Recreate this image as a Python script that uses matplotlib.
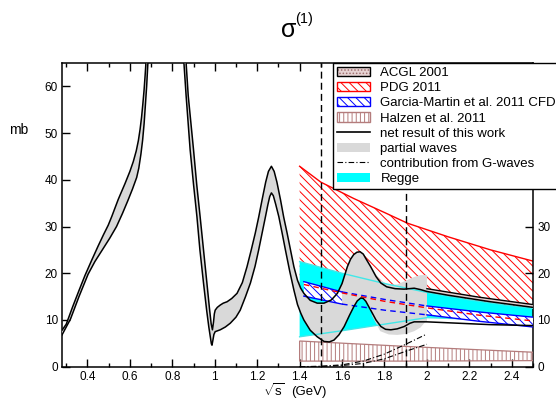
import numpy as np
import matplotlib
matplotlib.use("Agg")
import matplotlib.pyplot as plt
from matplotlib.patches import Patch
from matplotlib.lines import Line2D
from matplotlib.legend_handler import HandlerTuple

plt.rcParams['font.family'] = ['Liberation Sans', 'DejaVu Sans']
plt.rcParams['mathtext.fontset'] = 'custom'
plt.rcParams['mathtext.rm'] = 'Liberation Sans'
plt.rcParams['mathtext.it'] = 'Liberation Sans:italic'
plt.rcParams['hatch.linewidth'] = 0.7

# ---------------- data ----------------
# net result of this work: upper and lower envelopes
net_hi_x = [0.28, 0.30, 0.33, 0.36, 0.388, 0.42, 0.45, 0.475, 0.498, 0.515, 0.53, 0.545, 0.56,
            0.577, 0.60, 0.616, 0.63, 0.64, 0.648, 0.655, 0.661, 0.667, 0.672, 0.677, 0.69,
            0.72, 0.77, 0.82, 0.855, 0.875, 0.90, 0.915, 0.931, 0.947, 0.963, 0.975, 0.983,
            0.989, 0.994, 0.998, 1.002, 1.012, 1.026, 1.04, 1.058, 1.08, 1.105, 1.13, 1.152,
            1.172, 1.191, 1.207, 1.223, 1.24, 1.253, 1.267, 1.28, 1.293, 1.31, 1.325, 1.341,
            1.357, 1.373, 1.39, 1.405, 1.42, 1.45, 1.483, 1.515, 1.55, 1.578, 1.60, 1.625,
            1.64, 1.655, 1.67, 1.685, 1.70, 1.71, 1.735, 1.76, 1.783, 1.81, 1.85, 1.893, 1.94,
            1.97, 2.0, 2.1, 2.2, 2.3, 2.4, 2.5]
net_hi_y = [7.8, 9.1, 12.8, 16.3, 19.5, 22.8, 25.8, 28.2, 30.3, 32.2, 34.0, 35.8, 37.4,
            39.2, 41.8, 43.9, 46.2, 48.4, 50.8, 53.4, 56.2, 59.3, 62.5, 66.0, 80.0,
            110.0, 130.0, 105.0, 72.0, 58.0, 46.4, 39.0, 32.1, 25.0, 17.9, 12.5, 9.2,
            7.9, 9.5, 11.3, 12.1, 12.7, 13.2, 13.6, 13.9, 14.6, 15.7, 18.0, 21.4,
            25.0, 28.6, 32.0, 35.7, 39.5, 41.8, 42.9, 41.8, 39.5, 35.7, 32.0, 28.6,
            25.0, 21.4, 18.5, 16.8, 15.7, 14.2, 13.6, 13.6, 14.3, 15.7, 17.8, 21.4,
            23.0, 24.0, 24.5, 24.6, 24.1, 23.3, 21.4, 19.3, 17.9, 17.1, 16.7, 16.6, 16.8,
            16.5, 16.1, 15.3, 14.6, 13.9, 13.3, 12.7]
net_lo_x = [0.28, 0.30, 0.32, 0.36, 0.403, 0.435, 0.47, 0.505, 0.537, 0.565, 0.59, 0.612, 0.632,
            0.642, 0.652, 0.66, 0.667, 0.673, 0.679, 0.686, 0.70, 0.77, 0.84, 0.865, 0.884,
            0.90, 0.916, 0.93, 0.947, 0.962, 0.972, 0.979, 0.984, 0.987, 0.991, 0.996, 1.002,
            1.026, 1.05, 1.073, 1.10, 1.12, 1.145, 1.168, 1.19, 1.207, 1.225, 1.239, 1.25,
            1.259, 1.267, 1.276, 1.287, 1.302, 1.318, 1.333, 1.353, 1.373, 1.39, 1.405, 1.42,
            1.45, 1.483, 1.515, 1.54, 1.562, 1.585, 1.61, 1.635, 1.656, 1.672, 1.688, 1.70,
            1.712, 1.735, 1.76, 1.783, 1.805, 1.83, 1.86, 1.893, 1.92, 1.94, 2.0, 2.1, 2.2,
            2.3, 2.4, 2.5]
net_lo_y = [6.8, 8.5, 10.2, 15.0, 19.8, 22.5, 25.0, 27.5, 30.0, 32.8, 35.5, 38.0, 40.5,
            42.5, 45.5, 48.5, 52.0, 56.0, 60.0, 66.0, 80.0, 118.0, 75.0, 58.0, 46.4,
            39.0, 32.1, 25.0, 17.9, 12.0, 8.5, 6.4, 4.9, 4.6, 5.6, 6.9, 7.5,
            7.9, 8.5, 9.3, 10.6, 12.1, 15.0, 17.9, 21.5, 25.0, 29.0, 32.1, 34.6,
            36.4, 37.2, 36.6, 34.8, 32.1, 28.5, 25.0, 20.5, 16.4, 13.3, 11.5, 10.0,
            7.8, 6.4, 5.4, 5.3, 5.7, 6.8, 8.6, 11.0, 12.9, 14.1, 14.7, 14.6,
            14.0, 12.1, 10.0, 8.6, 8.0, 7.9, 8.1, 8.6, 9.3, 9.6, 9.6, 9.4, 9.2,
            9.0, 8.9, 8.8]
pw_limit = 2.0   # partial waves shown up to 2 GeV

# partial waves (extra spread)
pw_x = [1.74, 1.78, 1.82, 1.86, 1.90, 1.94, 1.97, 2.0]
pw_top = [21.0, 18.5, 17.6, 17.6, 18.4, 19.2, 19.6, 19.6]
pw_bot = [11.0, 7.6, 6.9, 6.8, 7.0, 7.6, 8.4, 10.0]

# Regge band
reg_x = [1.4, 1.6, 1.8, 2.0, 2.2, 2.4, 2.5]
reg_hi = [22.5, 20.0, 17.8, 15.9, 14.3, 13.0, 12.5]
reg_lo = [6.4, 7.7, 9.1, 10.5, 10.2, 9.9, 9.7]

# PDG 2011 band
pdg_x = [1.4, 1.5, 1.655, 1.8, 1.909, 2.1, 2.3, 2.5]
pdg_hi = [42.9, 39.5, 36.0, 33.0, 30.7, 27.8, 25.0, 22.6]
pdg_lo = [17.7, 16.7, 15.3, 14.0, 13.2, 11.9, 10.8, 9.8]

# red dashed central line
rd_x = [1.42, 1.6, 1.8, 2.0, 2.25, 2.5]
rd_y = [17.6, 15.8, 14.0, 12.6, 11.0, 9.8]

# Garcia-Martin et al. 2011 CFD band
gm_x = [1.42, 1.6, 1.8, 2.0, 2.25, 2.5]
gm_hi = [18.2, 16.0, 14.4, 13.0, 11.7, 10.6]
gm_lo = [15.1, 13.4, 12.1, 11.1, 9.7, 8.5]

# Halzen et al. 2011 band
hz_x = [1.4, 1.92, 2.5]
hz_hi = [5.5, 4.3, 3.1]
hz_lo = [1.2, 1.2, 1.3]

# ACGL 2001 band
acgl_x = [2.0, 2.25, 2.5]
acgl_hi = [16.7, 14.85, 13.3]
acgl_lo = [16.1, 14.25, 12.7]

# contributions from G-waves
g_x = [1.4, 1.5, 1.6, 1.7, 1.8, 1.9, 2.0]
g1_y = [0.0, 0.1, 0.4, 1.2, 2.7, 4.8, 7.0]
g2_y = [0.0, 0.05, 0.25, 0.7, 1.7, 3.3, 4.8]

vlines_x = [1.5, 1.9]

xticks = [0.4, 0.6, 0.8, 1.0, 1.2, 1.4, 1.6, 1.8, 2.0, 2.2, 2.4]
xtick_labels = ['0.4', '0.6', '0.8', '1', '1.2', '1.4', '1.6', '1.8', '2', '2.2', '2.4']
xminor = [0.3, 0.5, 0.7, 0.9, 1.1, 1.3, 1.5, 1.7, 1.9, 2.1, 2.3, 2.5]
yticks = [0, 10, 20, 30, 40, 50, 60]

legend_labels = ['ACGL 2001', 'PDG 2011', 'Garcia-Martin et al. 2011 CFD', 'Halzen et al. 2011',
                 'net result of this work', 'partial waves', 'contribution from G-waves', 'Regge']

# ---------------- colours ----------------
GRAY = '#d9d9d9'
CYAN = '#00ffff'
CYAN_EDGE = '#40e8e8'
RED = '#ff0000'
BLUE = '#0000ff'
BROWN = '#b47c7c'
LW = 1.1

# ---------------- figure ----------------
fig = plt.figure(figsize=(5.56, 3.99), dpi=100)
ax = fig.add_axes([62 / 556, 1 - 366.7 / 399, (533 - 62) / 556, (366.7 - 63) / 399])
ax.set_xlim(0.28, 2.5)
ax.set_ylim(0, 65)

# PDG hatched band
px = np.array(pdg_x)
ax.fill(np.concatenate([px, px[::-1]]), np.concatenate([pdg_hi, pdg_lo[::-1]]),
        facecolor='none', edgecolor=RED, hatch='\\\\\\\\', linewidth=0, zorder=1)
ax.plot(pdg_x, pdg_hi, color=RED, lw=1.0, zorder=1.5)

# Regge band
ax.fill_between(reg_x, reg_lo, reg_hi, facecolor=CYAN, edgecolor='none', zorder=2)

# gray band of net result (partial waves region)
hx = np.array(net_hi_x); hy = np.array(net_hi_y)
lx = np.array(net_lo_x); ly = np.array(net_lo_y)
mh = hx <= pw_limit
ml = lx <= pw_limit
ax.fill(np.concatenate([hx[mh], lx[ml][::-1]]), np.concatenate([hy[mh], ly[ml][::-1]]),
        facecolor=GRAY, edgecolor='none', zorder=3)
ax.fill_between(pw_x, pw_bot, pw_top, facecolor=GRAY, edgecolor='none', zorder=3)

# Regge edges
ax.plot(reg_x, reg_hi, color=CYAN_EDGE, lw=1.0, zorder=3.5)
ax.plot(reg_x, reg_lo, color=CYAN_EDGE, lw=1.0, zorder=3.5)

# Halzen band
zx = np.array(hz_x)
ax.fill(np.concatenate([zx, zx[::-1]]), np.concatenate([hz_hi, hz_lo[::-1]]),
        facecolor='none', edgecolor=BROWN, hatch='||||', linewidth=0.9, zorder=3.6)

# Garcia-Martin band: hatched where solid, dashed in between
gx = np.array(gm_x); ghi = np.array(gm_hi); glo = np.array(gm_lo)
for m in (gx <= 1.6, gx >= 2.0):
    ax.fill(np.concatenate([gx[m], gx[m][::-1]]), np.concatenate([ghi[m], glo[m][::-1]]),
            facecolor='white', edgecolor=BLUE, hatch='\\\\\\\\', linewidth=0, zorder=4)
    ax.plot(gx[m], ghi[m], color=BLUE, lw=1.0, zorder=4.5)
    ax.plot(gx[m], glo[m], color=BLUE, lw=1.0, zorder=4.5)
md = (gx >= 1.6) & (gx <= 2.0)
ax.plot(gx[md], ghi[md], color=BLUE, lw=1.0, ls=(0, (4, 3)), zorder=4.5)
ax.plot(gx[md], glo[md], color=BLUE, lw=1.0, ls=(0, (4, 3)), zorder=4.5)
ax.plot(rd_x, rd_y, color=RED, lw=1.0, ls=(0, (4, 3)), zorder=4.6)

# ACGL band
ax_ = np.array(acgl_x)
ax.fill(np.concatenate([ax_, ax_[::-1]]), np.concatenate([acgl_hi, acgl_lo[::-1]]),
        facecolor='#e6d2d2', edgecolor='none', zorder=5)
ax.plot(acgl_x, acgl_hi, color='black', lw=1.0, zorder=5.5)

# net result lines
ax.plot(net_hi_x, net_hi_y, color='black', lw=LW, zorder=6)
ax.plot(net_lo_x, net_lo_y, color='black', lw=LW, zorder=6)

# G-waves
ax.plot(g_x, g1_y, color='black', lw=0.8, ls=(0, (5, 2, 1, 2)), zorder=6)
ax.plot(g_x, g2_y, color='black', lw=0.8, ls=(0, (5, 2, 1, 2)), zorder=6)

# vertical dashed lines
for xv in vlines_x:
    ax.axvline(xv, color='black', lw=1.0, ls=(0, (5, 3)), zorder=7)

# axes styling
ax.set_xticks(xticks)
ax.set_xticklabels(xtick_labels)
ax.set_xticks(xminor, minor=True)
ax.set_yticks(yticks)
ax.set_yticklabels([str(v) for v in yticks])
ax.tick_params(which='both', direction='in', top=True, right=True, labelright=True,
               labelsize=8.5, width=1.0, pad=3)
ax.tick_params(which='major', length=5.5)
ax.tick_params(which='minor', length=3)
for s in ax.spines.values():
    s.set_linewidth(1.1)

# labels
fig.text(9 / 556, 1 - 130 / 399, 'mb', fontsize=10, ha='left', va='center')
fig.text(285 / 556, 1 - 395.5 / 399, r'$\sqrt{\mathrm{s}}$', fontsize=9.5,
         ha='right', va='baseline')
fig.text(291 / 556, 1 - 395.5 / 399, '(GeV)', fontsize=9.5, ha='left', va='baseline')
fig.text(281 / 556, 1 - 37 / 399, 'σ', fontsize=18, ha='left', va='baseline')
fig.text(295 / 556, 1 - 23 / 399, '(1)', fontsize=10.5, ha='left', va='baseline')

# legend
handles = [
    (Patch(facecolor='#e6d2d2', edgecolor='#a07070', hatch='.....', linewidth=0),
     Patch(facecolor='none', edgecolor='black', linewidth=1.0)),
    Patch(facecolor='white', edgecolor=RED, hatch='\\\\\\\\', linewidth=1.0),
    Patch(facecolor='white', edgecolor=BLUE, hatch='\\\\\\\\', linewidth=1.0),
    Patch(facecolor='white', edgecolor=BROWN, hatch='||||', linewidth=1.0),
    Line2D([], [], color='black', lw=1.2),
    Patch(facecolor=GRAY, edgecolor='none'),
    Line2D([], [], color='black', lw=0.8, ls=(0, (5, 2, 1, 2))),
    Patch(facecolor=CYAN, edgecolor='none'),
]
leg = fig.legend(handles, legend_labels, loc='upper left',
                 bbox_to_anchor=(333 / 556, 1 - 63 / 399), bbox_transform=fig.transFigure,
                 fontsize=9.5, frameon=True, fancybox=False, edgecolor='black', framealpha=1,
                 borderpad=0.3, handlelength=2.5, handleheight=0.7, handletextpad=0.8,
                 labelspacing=0.22, borderaxespad=0,
                 handler_map={tuple: HandlerTuple(ndivide=1, pad=0)})
leg.get_frame().set_linewidth(1.0)

fig.savefig('out.png', dpi=100)
